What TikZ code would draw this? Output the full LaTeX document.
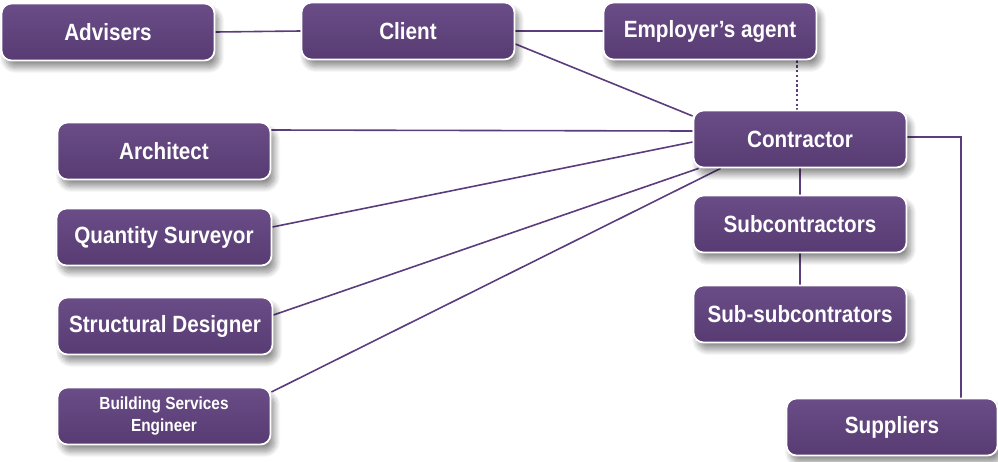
\documentclass[tikz,border=0pt]{standalone}
\usepackage{fontspec}
\setmainfont[FakeStretch=0.88]{Liberation Sans}
\usetikzlibrary{shadows.blur,backgrounds}
\definecolor{boxtop}{HTML}{6A4D87}
\definecolor{boxbot}{HTML}{573B72}
\definecolor{linkc}{HTML}{5B3C7C}
\tikzset{
  box/.style={rectangle, rounded corners=10pt, draw=white, line width=1.8pt,
    top color=boxtop, bottom color=boxbot, text=white,
    minimum width=213pt, minimum height=57pt, inner sep=0pt, align=center,
    font=\fontsize{23.5}{26}\selectfont\bfseries,
    blur shadow={shadow xshift=4pt, shadow yshift=-7pt, shadow blur steps=12, shadow blur radius=6pt, shadow opacity=45}},
  small/.style={font=\fontsize{17.5}{22}\selectfont\bfseries},
  link/.style={draw=linkc, line width=1.6pt},
  dotlink/.style={draw=linkc, line width=2.4pt, dash pattern=on 2.4pt off 2.4pt},
}
\begin{document}
\begin{tikzpicture}[x=1pt,y=-1pt]
\useasboundingbox (0,0) rectangle (998,461);
\node[box] (advisers) at (108,32) {Advisers};
\node[box] (client) at (408,31) {Client};
\node[box] (agent) at (710,31) {Employer’s agent};
\node[box] (contractor) at (800,139) {Contractor};
\node[box] (architect) at (164,151) {Architect};
\node[box, minimum width=215pt] (qs) at (164,237) {Quantity Surveyor};
\node[box, minimum width=215pt] (sd) at (165,326) {Structural Designer};
\node[box, small] (bse) at (164,416) {Building Services\\Engineer};
\node[box] (sub) at (800,224) {Subcontractors};
\node[box] (subsub) at (800,314) {Sub-subcontrators};
\node[box, minimum width=211pt] (suppliers) at (892,427) {Suppliers};
\begin{scope}[on background layer]
\draw[link] (advisers.east) -- (client.west);
\draw[link] (client.east) -- (agent.west);
\draw[link] ([yshift=-13pt]client.east) -- ([yshift=23pt]contractor.west);
\draw[link] ([yshift=21pt]architect.east) -- ([yshift=8pt]contractor.west);
\draw[link] ([yshift=10pt]qs.east) -- ([yshift=-3pt]contractor.west);
\draw[link] ([yshift=11pt]sd.east) -- ([xshift=6pt]contractor.south west);
\draw[link] ([yshift=24pt]bse.east) -- ([xshift=28pt]contractor.south west);
\draw[link] (contractor.south) -- (sub.north);
\draw[link] (sub.south) -- (subsub.north);
\draw[dotlink] ([xshift=87pt]agent.south) -- ([xshift=-3pt]contractor.north);
\draw[link] ([yshift=2pt]contractor.east) -| ([xshift=69pt]suppliers.north);
\end{scope}
\end{tikzpicture}
\end{document}
